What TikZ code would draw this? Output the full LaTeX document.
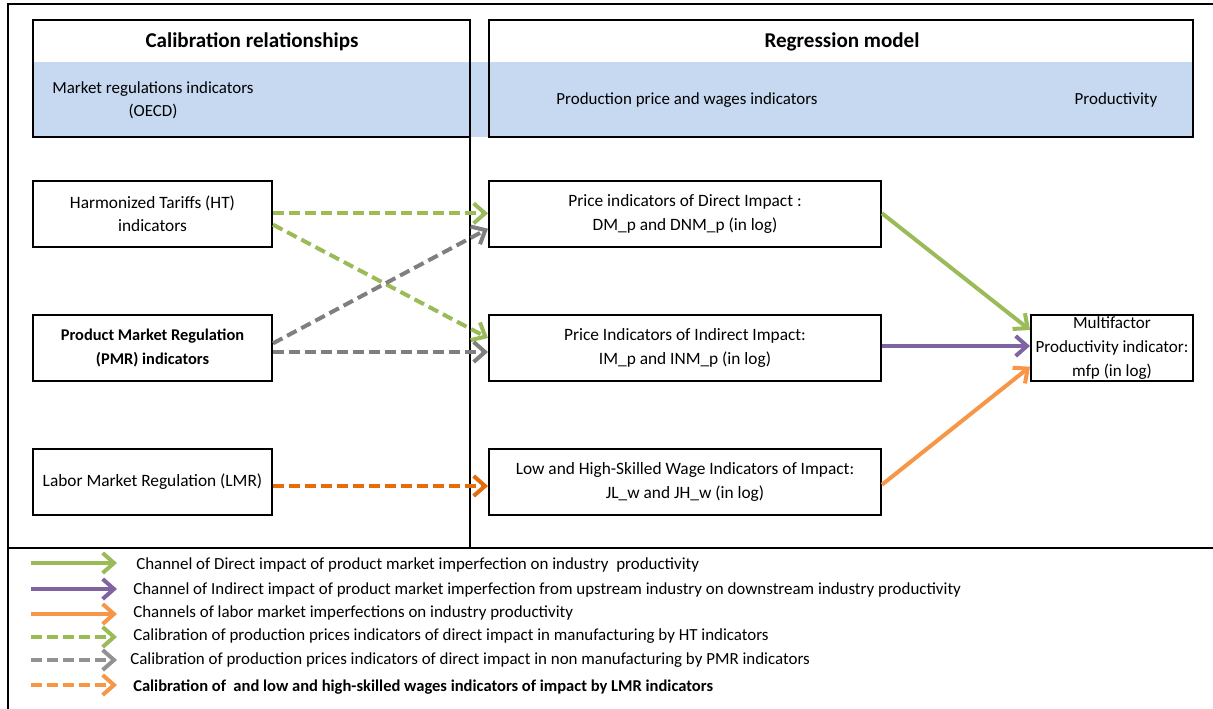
\documentclass[tikz,border=0pt]{standalone}
\usepackage{fontspec}
\setmainfont{Carlito}
\usetikzlibrary{arrows.meta,calc}
\definecolor{cgreen}{HTML}{9BBB59}
\definecolor{cpurple}{HTML}{8064A2}
\definecolor{corange}{HTML}{F79646}
\definecolor{cdorange}{HTML}{E46C0A}
\definecolor{cgrey}{HTML}{7F7F7F}
\definecolor{cblue}{HTML}{C6D9F1}
\tikzset{
  box/.style={draw, line width=1.5pt, align=center, inner sep=1pt, minimum height=49.5pt, font=\fontsize{13}{17.5}\selectfont},
  lbox/.style={box, minimum width=179.25pt},
  mbox/.style={box, minimum width=294pt},
  arr/.style={line width=3pt, -{Straight Barb[length=8.5pt,width=15pt]}},
  dsh/.style={arr, dash pattern=on 8pt off 4pt},
  frame/.style={line width=1.5pt},
  ttl/.style={font=\fontsize{15.8}{18}\selectfont\bfseries},
  lgd/.style={anchor=west, inner sep=0pt},
}
\begin{document}
\begin{tikzpicture}[x=0.75pt,y=-0.75pt,font=\fontsize{12.7}{17}\selectfont]
\useasboundingbox (0,0) rectangle (1213,709);
% outer frame
\draw[line width=1.2pt] (1213,4) -- (8,4) -- (8,709);
% blue band
\fill[cblue] (33,62) rectangle (1193,137);
% header boxes
\draw[frame] (33,20) rectangle (470,137);
\draw[frame] (489,20) rectangle (1193,137);
\node[ttl] (t1) at (252,42) {Calibration relationships};
\node[ttl] (t2) at (842,42) {Regression model};
\node[align=center] (h1) at (153,100) {Market regulations indicators\\(OECD)};
\node (h2) at (687,100) {Production price and wages indicators};
\node (h3) at (1116,100) {Productivity};
% separators
\draw[line width=1.2pt] (470,137) -- (470,548);
\draw[line width=1.8pt] (8,548) -- (1213,548);
% left boxes
\node[lbox] (ht) at (152.5,214) {Harmonized Tariffs (HT)\\indicators};
\node[lbox,font=\fontsize{12.3}{17.5}\selectfont\bfseries] (pmr) at (152.5,348) {Product Market Regulation\\(PMR) indicators};
\node[lbox] (lmr) at (152.5,482) {Labor Market Regulation (LMR)};
% middle boxes
\node[mbox] (dir) at (685,214) {Price indicators of Direct Impact :\\DM\_p and DNM\_p (in log)};
\node[mbox] (ind) at (685,348) {Price Indicators of Indirect Impact:\\IM\_p and INM\_p (in log)};
\node[mbox] (wage) at (685,482) {Low and High-Skilled Wage Indicators of Impact:\\JL\_w and JH\_w (in log)};
% right box
\node[box, minimum width=121.5pt, inner sep=0.5pt, font=\fontsize{12.8}{17.8}\selectfont] (mfp) at (1112,348) {Multifactor\\Productivity indicator:\\mfp (in log)};
% calibration arrows
\draw[dsh,cgreen] ([yshift=0.5pt]ht.east) -- ([yshift=0.5pt]dir.west);
\draw[dsh,cgreen] ([yshift=-8pt]ht.east) -- ([yshift=7.5pt]ind.west);
\draw[dsh,cgrey] ([yshift=3.5pt]pmr.east) -- ([yshift=-11pt]dir.west);
\draw[dsh,cgrey] ([yshift=-3pt]pmr.east) -- ([yshift=-3pt]ind.west);
\draw[dsh,cdorange] ([yshift=-3pt]lmr.east) -- ([yshift=-3pt]wage.west);
% regression arrows
\draw[arr,cgreen] ([yshift=0.5pt]dir.east) -- ([yshift=13.5pt]mfp.west);
\draw[arr,cpurple] ([yshift=1.5pt]ind.east) -- ([yshift=1.5pt]mfp.west);
\draw[arr,corange] ([yshift=-2pt]wage.east) -- ([yshift=-14pt]mfp.west);
% legend
\foreach \i/\y in {1/563,2/589,3/614,4/637,5/660,6/685}{
  \coordinate (ls\i) at (31,\y);
  \coordinate (le\i) at (117,\y);
}
\draw[arr,cgreen] (ls1) -- (le1);
\draw[arr,cpurple] (ls2) -- (le2);
\draw[arr,corange] (ls3) -- (le3);
\draw[dsh,cgreen] (ls4) -- (le4);
\draw[dsh,cgrey!85] (ls5) -- (le5);
\draw[dsh,corange] (ls6) -- (le6);
\node[lgd] (g1) at (136,565) {Channel of Direct impact of product market imperfection on industry\ \ productivity};
\node[lgd] (g2) at (133,590) {Channel of Indirect impact of product market imperfection from upstream industry on downstream industry productivity};
\node[lgd] (g3) at (133,613) {Channels of labor market imperfections on industry productivity};
\node[lgd] (g4) at (133,636) {Calibration of production prices indicators of direct impact in manufacturing by HT indicators};
\node[lgd] (g5) at (130,660) {Calibration of production prices indicators of direct impact in non manufacturing by PMR indicators};
\node[lgd,font=\fontsize{12.4}{17}\selectfont\bfseries] (g6) at (133,687) {Calibration of\ \ and low and high-skilled wages indicators of impact by LMR indicators};
\end{tikzpicture}
\end{document}
